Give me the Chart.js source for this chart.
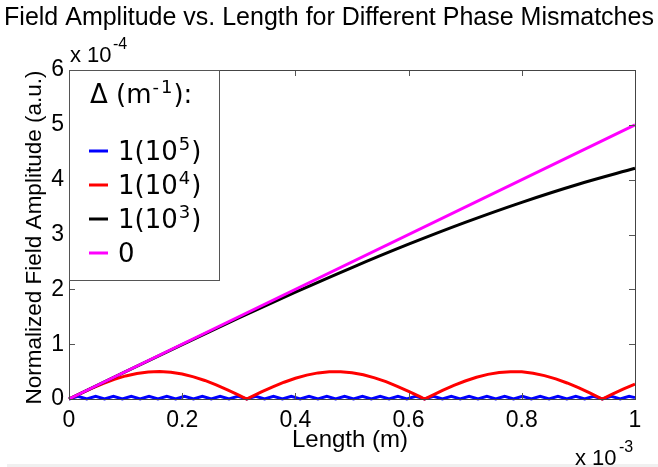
<!DOCTYPE html>
<html>
<head>
<meta charset="utf-8">
<script src="https://cdn.jsdelivr.net/npm/chart.js@4.4.0/dist/chart.umd.min.js"></script>
<style>
  html, body { margin: 0; padding: 0; background: #fff; }
  #wrap { width: 658px; height: 467px; position: relative; }
</style>
</head>
<body>
<div id="wrap"><canvas id="chart" width="658" height="467"></canvas></div>
<script>
// lengths in units of 1e-3 m, amplitudes in units of 1e-4 (a.u.)
const xTicks = [0, 0.2, 0.4, 0.6, 0.8, 1];
const yTicks = [0, 1, 2, 3, 4, 5, 6];

const legendTitle = 'Δ (m⁻¹):';
const seriesNames = ['1(10⁵)', '1(10⁴)', '1(10³)', '0'];
const seriesColors = ['#0000ff', '#ff0000', '#000000', '#ff00ff'];

// Δ = 1e5 : small ripple along the bottom
const blueX = [0, 0.0157, 0.0314, 0.0471, 0.0628, 0.0785, 0.0942, 0.1100, 0.1257, 0.1414,
  0.1571, 0.1728, 0.1885, 0.2042, 0.2199, 0.2356, 0.2513, 0.2670, 0.2827, 0.2985,
  0.3142, 0.3299, 0.3456, 0.3613, 0.3770, 0.3927, 0.4084, 0.4241, 0.4398, 0.4555,
  0.4712, 0.4869, 0.5027, 0.5184, 0.5341, 0.5498, 0.5655, 0.5812, 0.5969, 0.6126,
  0.6283, 0.6440, 0.6597, 0.6754, 0.6912, 0.7069, 0.7226, 0.7383, 0.7540, 0.7697,
  0.7854, 0.8011, 0.8168, 0.8325, 0.8482, 0.8639, 0.8796, 0.8954, 0.9111, 0.9268,
  0.9425, 0.9582, 0.9739, 0.9896, 1.0];
const blueY = [0, 0.05, 0, 0.05, 0, 0.05, 0, 0.05, 0, 0.05,
  0, 0.05, 0, 0.05, 0, 0.05, 0, 0.05, 0, 0.05,
  0, 0.05, 0, 0.05, 0, 0.05, 0, 0.05, 0, 0.05,
  0, 0.05, 0, 0.05, 0, 0.05, 0, 0.05, 0, 0.05,
  0, 0.05, 0, 0.05, 0, 0.05, 0, 0.05, 0, 0.05,
  0, 0.05, 0, 0.05, 0, 0.05, 0, 0.05, 0, 0.05,
  0, 0.05, 0, 0.05, 0.025];

// Δ = 1e4 : arches
const redX = [0, 0.02, 0.04, 0.06, 0.08, 0.10, 0.12, 0.14, 0.16, 0.18, 0.20, 0.22, 0.24, 0.26, 0.28, 0.30, 0.314,
  0.32, 0.34, 0.36, 0.38, 0.40, 0.42, 0.44, 0.46, 0.48, 0.50, 0.52, 0.54, 0.56, 0.58, 0.60, 0.62, 0.628,
  0.64, 0.66, 0.68, 0.70, 0.72, 0.74, 0.76, 0.78, 0.80, 0.82, 0.84, 0.86, 0.88, 0.90, 0.92, 0.942,
  0.96, 0.98, 1.00];
const redY = [0, 0.099, 0.195, 0.282, 0.359, 0.421, 0.466, 0.493, 0.500, 0.487, 0.455, 0.404, 0.338, 0.258, 0.167, 0.071, 0,
  0.029, 0.128, 0.221, 0.306, 0.378, 0.436, 0.476, 0.497, 0.498, 0.479, 0.442, 0.386, 0.316, 0.232, 0.140, 0.042, 0,
  0.058, 0.156, 0.247, 0.328, 0.397, 0.449, 0.484, 0.499, 0.495, 0.470, 0.427, 0.367, 0.292, 0.206, 0.111, 0,
  0.087, 0.183, 0.272];

// Δ = 1e3 : slowly bending line
const blackX = [0, 0.1, 0.2, 0.3, 0.4, 0.5, 0.6, 0.7, 0.8, 0.9, 1.0];
const blackY = [0, 0.499, 0.993, 1.478, 1.947, 2.397, 2.823, 3.221, 3.587, 3.917, 4.207];

// Δ = 0 : straight line
const magX = [0, 1.0];
const magY = [0, 5.0];

function pts(xs, ys) {
  return xs.map((x, i) => ({ x: x, y: ys[i] }));
}

const FONT = '"Liberation Sans", Arial, sans-serif';
const LFONT = '"DejaVu Sans", Verdana, sans-serif';
const SUP = { '⁻': '-', '¹': '1', '³': '3', '⁴': '4', '⁵': '5' };

// scrive il testo con gli apici più grandi e rialzati, come in MATLAB
function supText(ctx, str, x, y, size) {
  let cx = x;
  for (const ch of str) {
    if (SUP[ch]) {
      ctx.font = Math.round(size * 0.7) + 'px ' + LFONT;
      ctx.fillText(SUP[ch], cx + 1, y - size * 0.38);
      cx += ctx.measureText(SUP[ch]).width + 2;
    } else {
      ctx.font = size + 'px ' + LFONT;
      ctx.fillText(ch, cx, y);
      cx += ctx.measureText(ch).width;
    }
  }
}

const matlabLook = {
  id: 'matlabLook',
  beforeDraw(chart) {
    const ctx = chart.ctx;
    ctx.save();
    ctx.fillStyle = '#f0f0f0';
    ctx.fillRect(7, 464, 651, 3);
    ctx.restore();
  },
  afterDatasetsDraw(chart) {
    const ctx = chart.ctx;
    const a = chart.chartArea;
    const xs = chart.scales.x, ys = chart.scales.y;
    ctx.save();
    ctx.strokeStyle = '#555';
    ctx.lineWidth = 1;
    ctx.beginPath();
    xTicks.forEach(v => {
      const px = Math.round(xs.getPixelForValue(v)) + 0.5;
      ctx.moveTo(px, a.bottom); ctx.lineTo(px, a.bottom - 6);
      ctx.moveTo(px, a.top); ctx.lineTo(px, a.top + 6);
    });
    yTicks.forEach(v => {
      const py = Math.round(ys.getPixelForValue(v)) + 0.5;
      ctx.moveTo(a.left, py); ctx.lineTo(a.left + 6, py);
      ctx.moveTo(a.right, py); ctx.lineTo(a.right - 6, py);
    });
    ctx.stroke();
    ctx.strokeStyle = '#444';
    ctx.strokeRect(Math.round(a.left) + 0.5, Math.round(a.top) + 0.5,
      Math.round(a.right - a.left), Math.round(a.bottom - a.top));

    // legenda in alto a sinistra
    const lx = Math.round(a.left) + 0.5, ly = Math.round(a.top) + 0.5;
    ctx.fillStyle = '#fff';
    ctx.fillRect(lx, ly, 150, 210);
    ctx.strokeStyle = '#555';
    ctx.strokeRect(lx, ly, 150, 210);
    ctx.fillStyle = '#000';
    ctx.textBaseline = 'alphabetic';
    ctx.textAlign = 'left';
    supText(ctx, legendTitle, 90, 103, 26);
    const rows = [151, 185, 219, 253];
    seriesNames.forEach((name, i) => {
      ctx.strokeStyle = seriesColors[i];
      ctx.lineWidth = 3;
      ctx.beginPath();
      ctx.moveTo(89, rows[i]); ctx.lineTo(108, rows[i]);
      ctx.stroke();
      supText(ctx, name, 118, rows[i] + 9, 26);
    });
    ctx.restore();
  },
  afterDraw(chart) {
    const ctx = chart.ctx;
    const a = chart.chartArea;
    ctx.save();
    ctx.fillStyle = '#000';
    ctx.textBaseline = 'alphabetic';
    ctx.textAlign = 'center';
    ctx.font = '25px ' + FONT;
    ctx.fillText('Field Amplitude vs. Length for Different Phase Mismatches', 329, 25);
    ctx.font = '24px ' + FONT;
    ctx.fillText('Length (m)', (a.left + a.right) / 2 - 2, 447);

    ctx.save();
    ctx.font = '22.5px ' + FONT;
    ctx.translate(41, (a.top + a.bottom) / 2 + 3);
    ctx.rotate(-Math.PI / 2);
    ctx.fillText('Normalized Field Amplitude (a.u.)', 0, 0);
    ctx.restore();

    // esponenti degli assi
    ctx.textAlign = 'left';
    ctx.font = '22px ' + FONT;
    ctx.fillText('x 10', 70, 62);
    ctx.font = '16px ' + FONT;
    ctx.fillText('-4', 113, 49);
    ctx.font = '22px ' + FONT;
    ctx.fillText('x 10', 575, 465);
    ctx.font = '16px ' + FONT;
    ctx.fillText('-3', 619, 452);
    ctx.restore();
  }
};

const ctx = document.getElementById('chart').getContext('2d');
new Chart(ctx, {
  type: 'line',
  data: {
    datasets: [
      { label: seriesNames[0], data: pts(blueX, blueY), borderColor: seriesColors[0], order: 3 },
      { label: seriesNames[1], data: pts(redX, redY), borderColor: seriesColors[1], order: 2 },
      { label: seriesNames[2], data: pts(blackX, blackY), borderColor: seriesColors[2], order: 1,
        cubicInterpolationMode: 'monotone' },
      { label: seriesNames[3], data: pts(magX, magY), borderColor: seriesColors[3], order: 0 }
    ].map(d => Object.assign({
      borderWidth: 3, pointRadius: 0, tension: 0, fill: false, clip: false
    }, d))
  },
  options: {
    responsive: false,
    animation: false,
    layout: { padding: { left: 0, top: 70, right: 23, bottom: 0 } },
    plugins: {
      legend: { display: false },
      title: { display: false },
      tooltip: { enabled: false }
    },
    scales: {
      x: {
        type: 'linear',
        min: 0, max: 1,
        grid: { display: false, drawTicks: false },
        border: { display: false },
        afterBuildTicks: s => { s.ticks = xTicks.map(v => ({ value: v })); },
        afterFit: s => { s.height = 68; },
        ticks: {
          padding: 8, maxRotation: 0, color: '#000',
          font: { family: FONT, size: 23 },
          callback: v => String(v)
        }
      },
      y: {
        type: 'linear',
        min: 0, max: 6,
        grid: { display: false, drawTicks: false },
        border: { display: false },
        afterBuildTicks: s => { s.ticks = yTicks.map(v => ({ value: v })); },
        afterFit: s => { s.width = 69; },
        ticks: {
          padding: 5, color: '#000',
          font: { family: FONT, size: 23 },
          callback: v => String(v)
        }
      }
    }
  },
  plugins: [matlabLook]
});
</script>
</body>
</html>
